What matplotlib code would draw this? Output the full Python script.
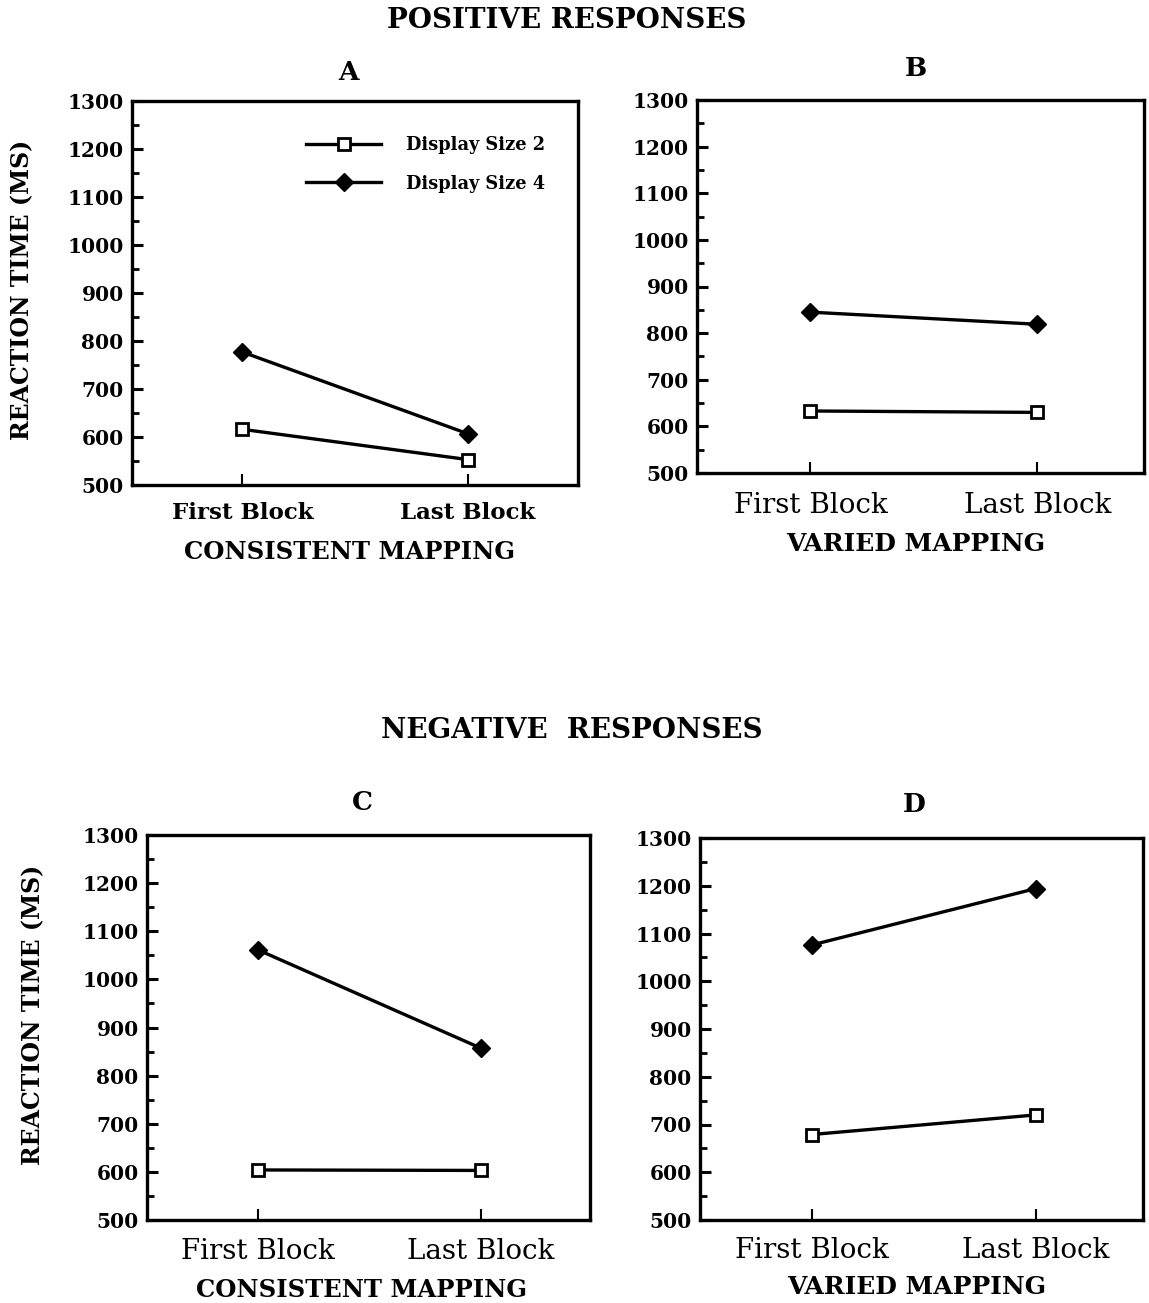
import matplotlib
matplotlib.use("Agg")
import matplotlib.pyplot as plt
from matplotlib.ticker import MultipleLocator

W, H = 1149, 1303

# reaction times (ms): [First Block, Last Block]
blocks = ["First Block", "Last Block"]
size2_A = [616, 553]
size4_A = [777, 607]
size2_B = [633, 630]
size4_B = [845, 819]
size2_C = [604, 603]
size4_C = [1061, 857]
size2_D = [679, 720]
size4_D = [1076, 1194]

serif = "DejaVu Serif"

def fx(px):
    return px / W

def fy(py):
    return 1 - py / H

def box(l, t, r, b):
    # pixel box -> axes rect
    return [fx(l), fy(b), fx(r) - fx(l), fy(t) - fy(b)]

fig = plt.figure(figsize=(W / 100, H / 100), dpi=100)
fig.patch.set_facecolor("white")

panels = [
    # rect, size2, size4, xlim, tick font, tick weight, tick pad
    (box(132, 101, 578, 485), size2_A, size4_A, (-0.49, 1.49), 16.5, "bold", 12),
    (box(697, 100, 1144, 473), size2_B, size4_B, (-0.50, 1.47), 20, "normal", 14),
    (box(147, 835, 590, 1220), size2_C, size4_C, (-0.50, 1.49), 20, "normal", 13),
    (box(700, 838, 1143, 1220), size2_D, size4_D, (-0.50, 1.48), 20, "normal", 12),
]

axes = []
for rect, s2, s4, xl, tfs, tw, tpad in panels:
    ax = fig.add_axes(rect)
    x = list(range(len(blocks)))
    ax.plot(x, s2, color="black", lw=2.4, marker="s", ms=8.5, mfc="white",
            mec="black", mew=2.0, label="Display Size 2")
    ax.plot(x, s4, color="black", lw=2.4, marker="D", ms=9, mfc="black",
            mec="black", label="Display Size 4")
    ax.set_xlim(*xl)
    ax.set_ylim(500, 1300)
    ax.yaxis.set_major_locator(MultipleLocator(100))
    ax.yaxis.set_minor_locator(MultipleLocator(50))
    ax.set_xticks(x)
    ax.set_xticklabels(blocks, fontfamily=serif, fontsize=tfs, fontweight=tw)
    for lab in ax.get_yticklabels():
        lab.set_fontfamily(serif)
        lab.set_fontweight("bold")
        lab.set_fontsize(14.5)
    ax.tick_params(axis="y", which="major", direction="in", length=8, width=2.2, pad=6)
    ax.tick_params(axis="y", which="minor", direction="in", length=5, width=2.0)
    ax.tick_params(axis="x", which="major", direction="in", length=8, width=1.5, pad=tpad)
    ax.tick_params(right=False, top=False)
    for sp in ax.spines.values():
        sp.set_linewidth(2.4)
    axes.append(ax)

# legend in panel A
leg = axes[0].legend(loc="upper left", bbox_to_anchor=(0.355, 0.95), frameon=False,
                     handlelength=4.2, handletextpad=1.4, labelspacing=1.15,
                     prop={"family": serif, "weight": "bold", "size": 12.8})

def ftext(px, py, s, size, weight="bold", rot=0):
    fig.text(fx(px), fy(py), s, ha="center", va="center", fontfamily=serif,
             fontsize=size, fontweight=weight, rotation=rot)

ftext(567, 20, "POSITIVE RESPONSES", 20)
ftext(349, 73, "A", 19)
ftext(916, 68, "B", 19)
ftext(572, 730, "NEGATIVE  RESPONSES", 20)
ftext(362, 802, "C", 19)
ftext(914, 805, "D", 19)

ftext(22, 290, "REACTION TIME (MS)", 17, rot=90)
ftext(33, 1015, "REACTION TIME (MS)", 17, rot=90)

ftext(350, 552, "CONSISTENT MAPPING", 17.5)
ftext(916, 544, "VARIED MAPPING", 18)
ftext(362, 1290, "CONSISTENT MAPPING", 17.5)
ftext(917, 1287, "VARIED MAPPING", 18)

fig.savefig("out.png", dpi=100)
